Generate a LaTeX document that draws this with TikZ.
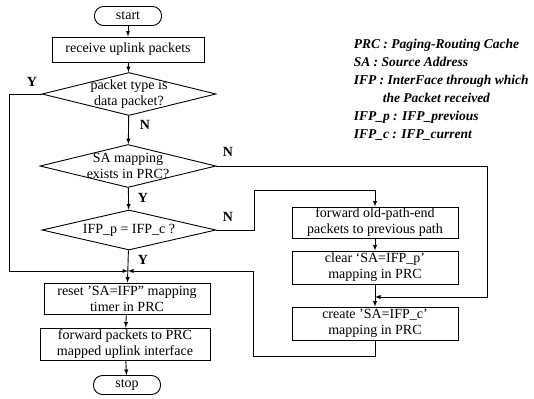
\documentclass[tikz,border=0pt]{standalone}
\usepackage{fontspec}
\setmainfont{Liberation Serif}
\usetikzlibrary{shapes.geometric}
\def\txt{\fontsize{14}{16}\selectfont}

\begin{document}
\begin{tikzpicture}[x=1pt, y=-1pt, line width=0.9pt, >=latex,
    every node/.style={font=\txt, align=center},
    proc/.style={draw, rectangle, minimum width=166pt, inner sep=1pt},
    term/.style={draw, rounded corners=9pt, minimum width=67pt, minimum height=19pt, inner sep=1pt},
    test/.style={draw, diamond, aspect=4, inner sep=-12pt, minimum width=174pt, minimum height=43pt},
    branch/.style={font=\txt\bfseries}]
      \useasboundingbox (0,0) rectangle (534,398);
      % main column
      \node[term] (start) at (128,16) {start};
      \node[proc, minimum width=152pt, minimum height=25pt] (recv) at (128,49.5) {receive uplink packets};
      \node[test] (pkt) at (129,94) {packet type is\\data packet?};
      \node[test, minimum width=176pt] (map) at (128,166) {SA mapping\\exists in PRC?};
      \node[test, minimum height=40pt] (ifp) at (129,230) {IFP\_p = IFP\_c ?};
      \node[proc, minimum height=31pt] (reset) at (127,298.5) {reset 'SA=IFP'' mapping\\timer in PRC};
      \node[proc, minimum width=170pt, minimum height=32pt] (fwd) at (125,344) {forward packets to PRC\\mapped uplink interface};
      \node[term] (stop) at (127,385) {stop};
      % right column
      \node[proc, minimum height=31pt] (old) at (375,222.5) {forward old-path-end\\packets to previous path};
      \node[proc, minimum height=33pt] (clear) at (375,267.5) {clear `SA=IFP\_p'\\mapping in PRC};
      \node[proc, minimum height=33pt] (create) at (375,323.5) {create 'SA=IFP\_c'\\mapping in PRC};
      \coordinate (jl) at (128,271);
      \coordinate (jr) at (375,297);
      % legend
      \node[anchor=north west, align=left, font=\fontsize{13.5}{18}\selectfont\bfseries\itshape] (legend) at (350,35)
        {PRC : Paging-Routing Cache\\SA : Source Address\\IFP : InterFace through which\\
         \hspace*{29pt}the Packet received\\IFP\_p : IFP\_previous\\IFP\_c : IFP\_current};
      % connectors
      \draw[->] (start) -- (recv);
      \draw[->] (recv) -- (pkt);
      \draw[->] (pkt) -- (map);
      \draw[->] (map) -- (ifp);
      \draw[->] (ifp) -- (reset);
      \draw[->] (reset) -- (fwd);
      \draw[->] (fwd) -- (stop);
      \draw[->] (pkt.west) -- ++(-32,0) |- (jl);
      \draw[->] (map.east) -- ++(271,0) |- (jr);
      \draw[->] (ifp.east) -- ++(38,0) -- ++(0,-40) -| (old.north);
      \draw[->] (old) -- (clear);
      \draw[->] (clear) -- (create);
      \draw[->] (create.south) -- ++(0,16) -- ++(-122,0) |- (jl);
      % branch labels
      \node[branch] (y1) at (32,82) {Y};
      \node[branch] (n1) at (145,125) {N};
      \node[branch] (y2) at (143,198) {Y};
      \node[branch] (y3) at (143,260) {Y};
      \node[branch] (n2) at (228,152) {N};
      \node[branch] (n3) at (228,217) {N};
    \end{tikzpicture}
\end{document}
